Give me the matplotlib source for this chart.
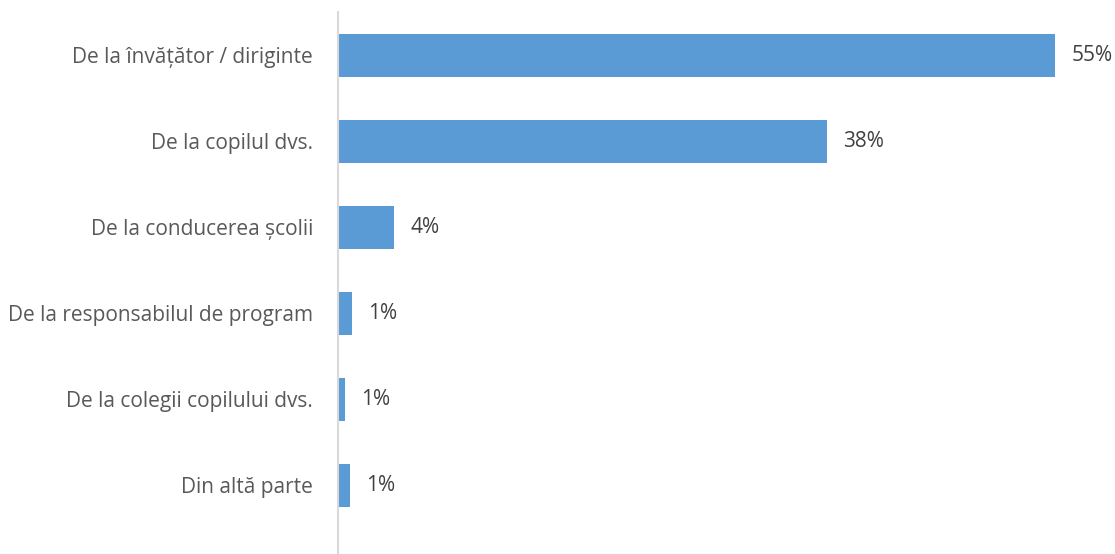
import matplotlib
matplotlib.use("Agg")
import matplotlib.pyplot as plt

categories = [
    "De la învățător / diriginte",
    "De la copilul dvs.",
    "De la conducerea școlii",
    "De la responsabilul de program",
    "De la colegii copilului dvs.",
    "Din altă parte",
]
values = [55.0, 37.5, 4.3, 1.05, 0.5, 0.9]
value_labels = ["55%", "38%", "4%", "1%", "1%", "1%"]

W, H = 1115, 554
fig = plt.figure(figsize=(W / 100, H / 100), dpi=100)
ax_left = 338 / W
ax = fig.add_axes([ax_left, 0.0, 1 - ax_left, (H - 12.3) / H])

pos = list(range(len(categories)))
ax.barh(pos, values, height=0.497, color="#5B9BD5", zorder=2)

px_per_unit = 13.04
ax.set_xlim(0, (W - 338) / px_per_unit)
ax.set_ylim((H - 55.3) / 86.0, -0.5)

for p, v, lab in zip(pos, values, value_labels):
    ax.text(v + 16.5 / px_per_unit, p, lab, va="center", ha="left",
            fontsize=15, color="#404040", family="Open Sans")

ax.set_yticks(pos)
ax.set_yticklabels(categories, fontsize=15, color="#595959", family="Open Sans")
ax.tick_params(axis="y", length=0, pad=18)
ax.set_xticks([])
for s in ["top", "right", "bottom"]:
    ax.spines[s].set_visible(False)
ax.spines["left"].set_color("#D9D9D9")
ax.spines["left"].set_linewidth(1.5)

fig.savefig("out.png", dpi=100)
